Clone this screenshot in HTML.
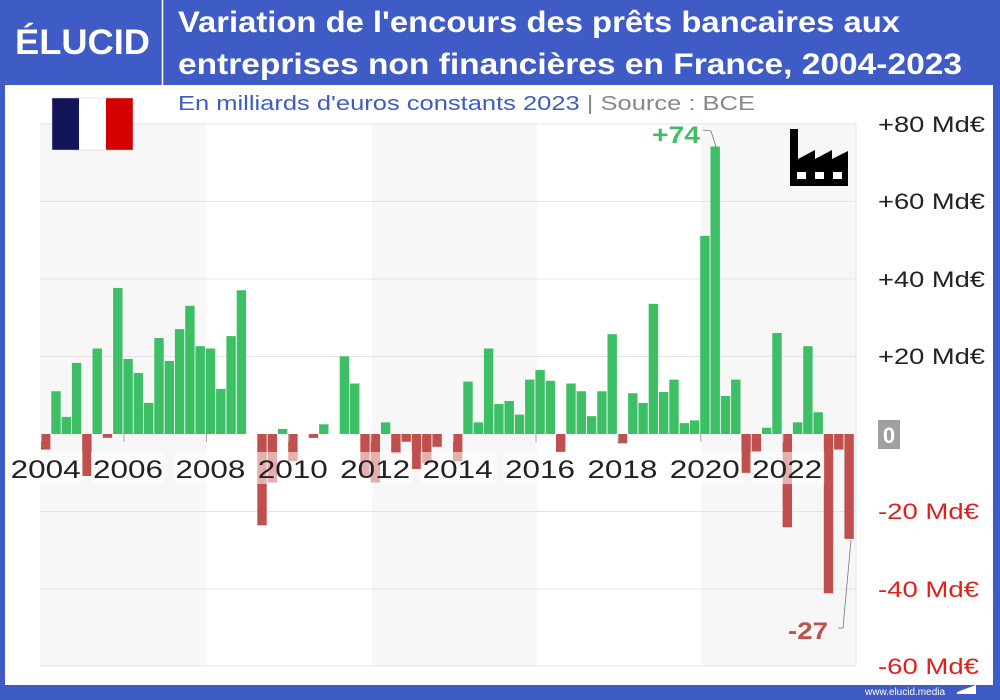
<!DOCTYPE html>
<html><head><meta charset="utf-8"><style>
html,body{margin:0;padding:0;width:1000px;height:700px;overflow:hidden;background:#fff}
svg{display:block;font-family:"Liberation Sans",sans-serif}
</style></head><body>
<svg width="1000" height="700" viewBox="0 0 1000 700" xmlns="http://www.w3.org/2000/svg">
<rect x="0" y="0" width="1000" height="700" fill="#3f5bc6"/>
<rect x="5" y="85" width="988" height="600" fill="#fff"/>
<!-- header -->
<text x="15" y="54" fill="#fff" font-size="35" font-weight="bold" textLength="135" lengthAdjust="spacingAndGlyphs">ÉLUCID</text>
<line x1="162.5" y1="0" x2="162.5" y2="85" stroke="#fff" stroke-width="1.5"/>
<text x="178" y="32" fill="#fff" font-size="30" font-weight="bold" textLength="722" lengthAdjust="spacingAndGlyphs">Variation de l'encours des prêts bancaires aux</text>
<text x="178" y="74" fill="#fff" font-size="30" font-weight="bold" textLength="784" lengthAdjust="spacingAndGlyphs">entreprises non financières en France, 2004-2023</text>
<text x="178" y="110" font-size="20" fill="#3f5bc6" textLength="577" lengthAdjust="spacingAndGlyphs">En milliards d'euros constants 2023 <tspan fill="#888">|  Source : BCE</tspan></text>
<!-- bands -->
<rect x="40" y="123" width="166" height="543" fill="#f7f7f7"/>
<rect x="372" y="123" width="165" height="543" fill="#f7f7f7"/>
<rect x="701" y="123" width="155" height="543" fill="#f7f7f7"/>
<g stroke="#e4e4e4" stroke-width="1">
<line x1="40" x2="856" y1="124" y2="124"/><line x1="40" x2="856" y1="201.5" y2="201.5"/>
<line x1="40" x2="856" y1="279" y2="279"/><line x1="40" x2="856" y1="356.5" y2="356.5"/>
<line x1="40" x2="856" y1="511.5" y2="511.5"/><line x1="40" x2="856" y1="589" y2="589"/>
<line x1="40" x2="856" y1="666" y2="666"/><line x1="856" x2="856" y1="123" y2="666"/>
</g>
<!-- flag -->
<rect x="52" y="98" width="27" height="52" fill="#14145a"/>
<rect x="79" y="98" width="27" height="52" fill="#fff"/>
<rect x="106" y="98" width="27" height="52" fill="#d40000"/>
<rect x="52" y="98" width="81" height="52" fill="none" stroke="#ccc" stroke-width="0.5"/>
<!-- factory -->
<path d="M790 129 h8 v30 l17 -9 v9 l17 -9 v9 l16 -8 v35 h-58 z" fill="#000"/>
<rect x="797" y="172" width="9" height="7" fill="#fff"/>
<rect x="815" y="172" width="9" height="7" fill="#fff"/>
<rect x="833" y="172" width="9" height="7" fill="#fff"/>
<g id="bars"></g>
<g id="labels"></g>
<!-- annotations -->
<text x="676" y="143" text-anchor="middle" fill="#3dbf66" font-size="24" font-weight="bold" textLength="48" lengthAdjust="spacingAndGlyphs">+74</text>
<polyline points="703,130 711,131 716,147" fill="none" stroke="#777" stroke-width="0.8"/>
<text x="808" y="639" text-anchor="middle" fill="#c0504d" font-size="24" font-weight="bold" textLength="40" lengthAdjust="spacingAndGlyphs">-27</text>
<polyline points="838,628 843,628 851,540" fill="none" stroke="#777" stroke-width="0.8"/>
<!-- y labels -->
<g font-size="22" fill="#222">
<text x="878" y="132" textLength="107" lengthAdjust="spacingAndGlyphs">+80 Md€</text><text x="878" y="209" textLength="107" lengthAdjust="spacingAndGlyphs">+60 Md€</text>
<text x="878" y="287" textLength="107" lengthAdjust="spacingAndGlyphs">+40 Md€</text><text x="878" y="364" textLength="107" lengthAdjust="spacingAndGlyphs">+20 Md€</text>
</g>
<rect x="878" y="420" width="22" height="29" fill="#a0a0a0"/>
<text x="889" y="443" text-anchor="middle" fill="#fff" font-size="22" font-weight="bold">0</text>
<g font-size="22" fill="#e0201b">
<text x="878" y="519" textLength="101" lengthAdjust="spacingAndGlyphs">-20 Md€</text><text x="878" y="597" textLength="101" lengthAdjust="spacingAndGlyphs">-40 Md€</text><text x="878" y="674" textLength="101" lengthAdjust="spacingAndGlyphs">-60 Md€</text>
</g>
<text x="865" y="695" fill="#fff" font-size="10">www.elucid.media</text>
<path d="M957 692 l19 -7 v9 h-19 z" fill="#fff"/>
</svg>
<script>
var v=[-4,11,4.4,18.3,-10.8,22,-1,37.6,19.3,15.7,8,24.7,18.8,27,33,22.6,22,11.6,25.2,37,0,-23.5,-12.5,1.3,-7,0,-1,2.5,0,20,13,-11,-12.5,3,-5,-2,-9,-7.5,-3.3,0,-7,13.5,3,22,7.7,8.5,5,14,16.5,13.7,-4.6,13,11,4.6,11,25.7,-2.4,10.5,8,33.5,10.8,14,2.8,3.5,51,74,9.8,14,-10,-4.5,1.6,26,-24,3,22.6,5.6,-41,-4,-27];
var z=434,s=3.885,ns="http://www.w3.org/2000/svg",g=document.getElementById('bars');
v.forEach(function(d,i){if(!d)return;var r=document.createElementNS(ns,'rect');var x=41+i*10.3;var h=Math.abs(d)*s;
r.setAttribute('x',x.toFixed(2));r.setAttribute('width','9.4');r.setAttribute('y',(d>0?z-h:z).toFixed(2));r.setAttribute('height',h.toFixed(2));
r.setAttribute('fill',d>0?'#3dbf66':'#c0504d');g.appendChild(r);});
var L=document.getElementById('labels');
for(var k=0;k<10;k++){var cx=124+(k-1)*82.4;
var t=document.createElementNS(ns,'line');t.setAttribute('x1',cx);t.setAttribute('x2',cx);t.setAttribute('y1',434);t.setAttribute('y2',442);t.setAttribute('stroke','#aaa');L.appendChild(t);
var b=document.createElementNS(ns,'rect');b.setAttribute('x',cx+4-37);b.setAttribute('y',452);b.setAttribute('width',74);b.setAttribute('height',32);b.setAttribute('fill','#fff');b.setAttribute('opacity','0.55');L.appendChild(b);
var tx=document.createElementNS(ns,'text');tx.setAttribute('x',cx+4);tx.setAttribute('y',478);tx.setAttribute('text-anchor','middle');tx.setAttribute('font-size','25');tx.setAttribute('fill','#222');tx.setAttribute('textLength','70');tx.setAttribute('lengthAdjust','spacingAndGlyphs');tx.textContent=String(2004+2*k);L.appendChild(tx);}
</script>
</body></html>
